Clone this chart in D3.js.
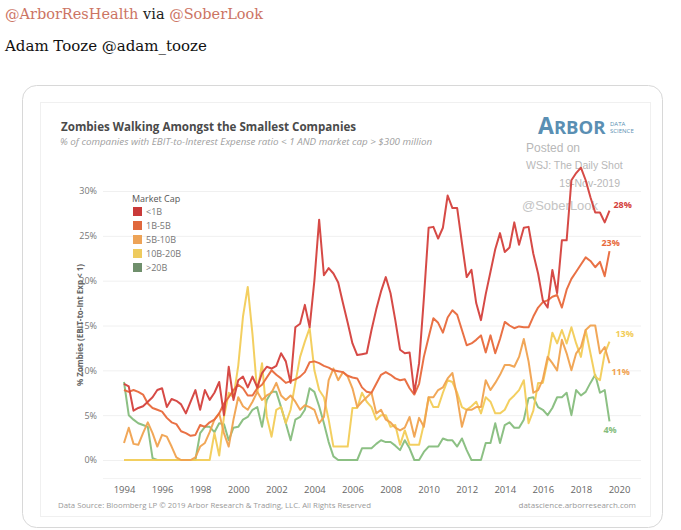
<!DOCTYPE html>
<html>
<head>
<meta charset="utf-8">
<script src="https://cdn.jsdelivr.net/npm/d3@7"></script>
<style>
  body { margin: 0; background: #fff; }
  svg { display: block; }
</style>
</head>
<body>
<svg id="chart" width="681" height="530"></svg>
<script>
// quarterly observations, 1994 Q1 .. 2019 Q3
var startYear = 1994;
var seriesNames = ["<1B", "1B-5B", "5B-10B", "10B-20B", ">20B"];
var endLabels = ["28%", "23%", "11%", "13%", "4%"];
var yTicks = [0, 5, 10, 15, 20, 25, 30];
var xTicks = [1994, 1996, 1998, 2000, 2002, 2004, 2006, 2008, 2010, 2012, 2014, 2016, 2018, 2020];

var lt1B = [8.5, 8.2, 5.5, 5.8, 6.0, 6.5, 7.0, 7.8, 8.0, 5.9,
  6.8, 6.6, 6.2, 5.2, 6.5, 7.8, 5.6, 7.8, 6.7, 7.5,
  8.7, 5.0, 10.4, 6.7, 8.9, 9.3, 8.1, 9.3, 8.1, 9.7,
  10.4, 10.2, 10.5, 11.9, 11.0, 8.6, 14.8, 15.2, 17.3, 14.8,
  20.0, 26.8, 20.6, 21.4, 20.8, 19.8, 17.5, 15.3, 13.0, 11.7,
  11.8, 11.9, 14.5, 16.8, 18.8, 20.4, 18.6, 15.6, 12.3, 11.9,
  12.0, 7.5, 10.8, 18.0, 25.9, 26.0, 24.7, 25.9, 29.5, 28.1,
  28.1, 24.2, 20.4, 21.2, 17.5, 15.6, 18.5, 21.0, 23.5, 25.3,
  23.2, 23.7, 26.5, 24.0, 25.9, 26.0, 23.0, 20.8, 17.8, 17.0,
  21.2, 18.6, 24.5, 24.5, 31.2, 32.0, 32.6, 31.2, 29.3, 27.6,
  27.6, 26.5, 27.8];

var b1to5 = [7.8, 7.6, 7.8, 7.6, 7.3, 6.3, 5.8, 5.6, 5.4, 4.7,
  4.2, 4.0, 3.2, 3.0, 2.7, 2.8, 3.9, 3.7, 4.2, 4.5,
  5.2, 6.3, 7.0, 7.8, 8.4, 8.0, 7.2, 7.2, 8.0, 8.4,
  9.2, 10.0, 9.5, 9.1, 8.6, 8.8, 9.0, 9.3, 9.8, 10.9,
  11.0, 10.8, 10.5, 10.3, 10.0, 9.9, 9.8, 9.4, 9.2, 9.1,
  8.1, 7.6, 7.5, 8.5, 9.5, 9.8, 9.5, 9.1, 8.9, 9.0,
  8.0, 7.3, 8.5, 11.5, 13.7, 15.8, 15.3, 14.2, 15.9, 16.7,
  16.2, 14.5, 12.8, 13.0, 13.4, 13.9, 12.0, 13.9, 11.9, 13.5,
  15.4, 15.0, 14.7, 14.9, 14.8, 14.8, 16.0, 17.0, 17.6, 17.8,
  18.2, 18.4, 17.0, 19.0, 20.2, 21.0, 21.8, 22.6, 22.2, 21.5,
  22.1, 20.5, 23.3];

var b5to10 = [1.9, 3.6, 1.8, 1.7, 3.0, 4.2, 3.0, 1.5, 2.8, 2.6,
  1.5, 0.3, 0, 0, 0, 0.3, 1.5, 1.9, 3.1, 4.5,
  5.2, 3.0, 1.5, 4.5, 7.0, 6.0, 5.6, 6.5, 7.6, 6.7,
  7.2, 7.5, 8.6, 7.2, 6.7, 7.2, 6.5, 5.6, 6.1, 5.9,
  5.6, 4.1, 4.8, 8.9, 10.2, 8.9, 9.8, 9.3, 8.0, 5.9,
  6.5, 7.0, 7.5, 5.2, 5.6, 4.5, 4.2, 3.6, 3.3, 3.6,
  4.8, 2.6, 4.7, 3.7, 7.0, 7.0, 7.8, 8.1, 9.1, 9.7,
  7.0, 3.7, 5.6, 5.6, 5.9, 5.9, 8.9, 7.8, 8.6, 9.5,
  10.6, 10.6, 10.4, 11.5, 13.5, 11.0, 7.5, 7.8, 9.0, 11.5,
  10.8, 10.0, 13.4, 11.9, 10.0, 11.9, 12.6, 14.5, 15.0, 15.0,
  11.9, 12.6, 10.8];

var b10to20 = [0, 0, 0, 0, 0, 0, 0, 0, 0, 0,
  0, 0, 0, 0, 0, 0, 0, 0, 0, 3.0,
  0.5, 4.8, 7.5, 7.0, 10.5, 16.0, 19.3, 14.0, 7.5, 10.8,
  4.8, 2.6, 5.6, 5.9, 4.1, 5.6, 8.6, 11.5, 13.2, 14.7,
  10.0, 7.8, 7.0, 4.5, 1.5, 1.5, 1.5, 1.5, 5.8, 5.8,
  7.5, 6.5, 5.9, 4.5, 5.0, 5.0, 3.7, 3.9, 1.7, 3.3,
  1.7, 1.7, 1.7, 4.0, 7.0, 5.9, 5.9, 7.5, 8.9, 8.7,
  7.5, 5.9, 5.6, 6.0, 6.5, 5.2, 7.0, 6.5, 5.2, 5.2,
  5.6, 6.7, 7.2, 7.8, 8.9, 4.1, 5.5, 8.6, 8.6, 11.1,
  14.2, 13.0, 14.5, 13.0, 14.8, 13.0, 11.5, 14.5, 11.9, 9.3,
  8.9, 11.9, 13.2];

var gt20B = [8.7, 5.0, 4.5, 4.1, 3.9, 3.7, 0.2, 0, 0, 0,
  0, 0, 0, 0, 0, 0, 3.0, 3.7, 3.7, 3.1,
  4.1, 4.0, 2.2, 3.6, 3.7, 4.5, 4.8, 5.6, 5.9, 3.7,
  6.7, 7.6, 7.6, 5.9, 4.1, 2.2, 4.5, 4.8, 5.6, 8.0,
  7.6, 6.0, 4.1, 2.0, 0.4, 0, 0, 0, 0, 0,
  1.3, 1.3, 1.3, 1.8, 2.2, 2.0, 2.0, 1.6, 1.1, 2.2,
  1.3, 0, 0, 0.9, 1.5, 1.5, 1.5, 2.4, 2.2, 2.2,
  1.5, 2.4, 1.1, 0, 0, 0, 1.9, 1.9, 4.1, 1.9,
  3.9, 4.2, 3.6, 3.6, 4.5, 6.9, 7.0, 5.9, 5.6, 5.0,
  5.8, 7.0, 7.0, 7.5, 5.0, 7.8, 7.2, 7.6, 8.6, 9.5,
  7.5, 7.8, 4.3];

var allSeries = [lt1B, b1to5, b5to10, b10to20, gt20B];
var lineColors = ["#d4403c", "#e8693b", "#f0a24f", "#f2cc57", "#86bd7d"];
var swatchColors = ["#c93a39", "#e0683c", "#eda357", "#eecb5e", "#6f8f6c"];
var labelDx = [4, -8, 2, 6, -6];
var labelDy = [-3, -5, 12, -5, 12];

var svg = d3.select("#chart");

// header lines
var head = svg.append("text").attr("x", 5).attr("y", 19)
  .style("font-family", "'DejaVu Serif', serif").style("font-size", "14.5px");
head.append("tspan").attr("fill", "#cc7463").text("@ArborResHealth");
head.append("tspan").attr("fill", "#222").text(" via ");
head.append("tspan").attr("fill", "#cc7463").text("@SoberLook");
svg.append("text").attr("x", 5).attr("y", 51)
  .style("font-family", "'DejaVu Serif', serif").style("font-size", "15px")
  .attr("fill", "#111").text("Adam Tooze @adam_tooze");

// card + chart image frame
svg.append("rect").attr("x", 22.5).attr("y", 85.5).attr("width", 640).attr("height", 442)
  .attr("rx", 14).attr("fill", "#fff").attr("stroke", "#d8d8d8");
svg.append("rect").attr("x", 40.5).attr("y", 102.5).attr("width", 610).attr("height", 414)
  .attr("fill", "#fff").attr("stroke", "#f0f0f0");

var sans = "'Open Sans', 'Noto Sans', sans-serif";

svg.append("text").attr("x", 61).attr("y", 131)
  .style("font-family", sans).style("font-size", "11.6px").style("font-weight", "bold")
  .attr("fill", "#4a4a4a").text("Zombies Walking Amongst the Smallest Companies");
svg.append("text").attr("x", 60).attr("y", 145)
  .style("font-family", sans).style("font-size", "9.8px").style("font-style", "italic")
  .attr("fill", "#a0a0a0").text("% of companies with EBIT-to-Interest Expense ratio < 1 AND market cap > $300 million");

// logo and watermark
var logo = svg.append("text").attr("x", 538).attr("y", 134)
  .style("font-family", sans).style("font-weight", "bold").attr("fill", "#5a8fb3");
logo.append("tspan").style("font-size", "23px").text("A");
logo.append("tspan").style("font-size", "18.5px").text("RBOR");
svg.append("text").attr("x", 610).attr("y", 126).style("font-family", sans)
  .style("font-size", "6px").attr("fill", "#5a8fb3").text("DATA");
svg.append("text").attr("x", 610).attr("y", 133).style("font-family", sans)
  .style("font-size", "6px").attr("fill", "#5a8fb3").text("SCIENCE");
svg.append("text").attr("x", 526).attr("y", 152).style("font-family", "'Liberation Sans', sans-serif")
  .style("font-size", "12px").attr("fill", "#b8b8b8").text("Posted on");
svg.append("text").attr("x", 526).attr("y", 169).style("font-family", "'Liberation Sans', sans-serif")
  .style("font-size", "10.5px").attr("fill", "#b8b8b8").text("WSJ: The Daily Shot");
svg.append("text").attr("x", 620).attr("y", 187).attr("text-anchor", "end")
  .style("font-family", "'Liberation Sans', sans-serif")
  .style("font-size", "10.5px").attr("fill", "#b8b8b8").text("19-Nov-2019");
svg.append("text").attr("x", 522).attr("y", 210).style("font-family", "'Liberation Sans', sans-serif")
  .style("font-size", "13px").attr("fill", "#c4c4c4").text("@SoberLook");

// scales
var x = d3.scaleLinear().domain([1994, 2020]).range([124, 619]);
var y = d3.scaleLinear().domain([0, 30]).range([460, 191]);

// grid
svg.append("g").selectAll("line").data(yTicks).enter().append("line")
  .attr("x1", 103).attr("x2", 641)
  .attr("y1", function(d) { return y(d) + 0.5; })
  .attr("y2", function(d) { return y(d) + 0.5; })
  .attr("stroke", "#f0f0f0");
svg.append("line").attr("x1", 103).attr("x2", 641).attr("y1", 478.5).attr("y2", 478.5)
  .attr("stroke", "#f3f3f3");

// axes
var yAxis = svg.append("g").attr("transform", "translate(103,0)")
  .call(d3.axisLeft(y).tickValues(yTicks).tickSize(0).tickPadding(6)
    .tickFormat(function(d) { return d + "%"; }));
yAxis.select(".domain").remove();
yAxis.selectAll("text").style("font-family", sans).style("font-size", "9px").attr("fill", "#777");

var xAxis = svg.append("g").attr("transform", "translate(0,482)")
  .call(d3.axisBottom(x).tickValues(xTicks).tickSize(0).tickPadding(4).tickFormat(d3.format("d")));
xAxis.select(".domain").remove();
xAxis.selectAll("text").style("font-family", sans).style("font-size", "9.5px").attr("fill", "#666");

svg.append("text").attr("transform", "translate(83,325) rotate(-90)").attr("text-anchor", "middle")
  .style("font-family", sans).style("font-size", "8px").style("font-weight", "bold")
  .attr("fill", "#666").text("% Zombies (EBIT-to-Int Exp < 1)");

// lines
var line = d3.line()
  .x(function(d, i) { return x(startYear + i / 4); })
  .y(function(d) { return y(d); });

var order = [4, 3, 2, 1, 0];
order.forEach(function(k) {
  svg.append("path").datum(allSeries[k])
    .attr("fill", "none").attr("stroke", lineColors[k])
    .attr("stroke-width", 2).attr("stroke-linejoin", "round")
    .attr("stroke-opacity", 0.95)
    .attr("d", line);
});

// end labels
allSeries.forEach(function(s, k) {
  var last = s.length - 1;
  svg.append("text")
    .attr("x", x(startYear + last / 4) + labelDx[k])
    .attr("y", y(s[last]) + labelDy[k])
    .style("font-family", sans).style("font-size", "9px").style("font-weight", "bold")
    .attr("fill", lineColors[k]).text(endLabels[k]);
});

// legend
var legend = svg.append("g").attr("transform", "translate(132,0)");
legend.append("text").attr("x", 0).attr("y", 202)
  .style("font-family", sans).style("font-size", "9px").attr("fill", "#555").text("Market Cap");
seriesNames.forEach(function(n, k) {
  legend.append("rect").attr("x", 1).attr("y", 207 + k * 14).attr("width", 9).attr("height", 9)
    .attr("fill", swatchColors[k]);
  legend.append("text").attr("x", 14).attr("y", 215 + k * 14)
    .style("font-family", sans).style("font-size", "9px").attr("fill", "#777").text(n);
});

// footer
svg.append("text").attr("x", 58).attr("y", 508)
  .style("font-family", sans).style("font-size", "7.8px").attr("fill", "#999")
  .text("Data Source: Bloomberg LP \u00a9 2019 Arbor Research & Trading, LLC. All Rights Reserved");
svg.append("text").attr("x", 636).attr("y", 508).attr("text-anchor", "end")
  .style("font-family", sans).style("font-size", "8px").attr("fill", "#999")
  .text("datascience.arborresearch.com");
</script>
</body>
</html>
